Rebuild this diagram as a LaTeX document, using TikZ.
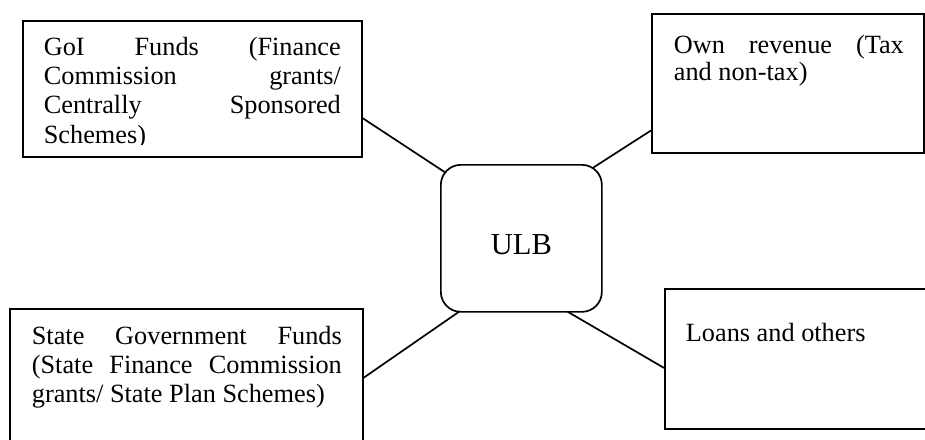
\documentclass[tikz,border=0pt]{standalone}
\usepackage{fontspec}
\setmainfont{Liberation Serif}
\usetikzlibrary{calc}
\begin{document}
\begin{tikzpicture}[x=1pt,y=-1pt,line width=1.7pt,
  box/.style={draw,rectangle,inner sep=0pt,anchor=north west},
  txt/.style={inner sep=0pt,anchor=base west},
  link/.style={line width=1.7pt}]
\clip (0,0) rectangle (925,439);
\fill[white] (0,0) rectangle (925,439);
% boxes
\node[box,minimum width=339pt,minimum height=136pt] (goi) at (22,20) {};
\node[box,minimum width=272pt,minimum height=139pt] (own) at (651,13) {};
\node[box,minimum width=353pt,minimum height=170pt] (state) at (9,308) {};
\node[box,minimum width=300pt,minimum height=140pt] (loans) at (664,288) {};
\node[box,rounded corners=20pt,minimum width=161pt,minimum height=147pt,
      font=\fontsize{30.5}{34}\selectfont,text height=33pt,text depth=0pt] (ulb) at (440,164) {ULB};
% texts
\begin{scope}
\clip (goi.north west) rectangle ([yshift=13.5pt]goi.south east);
\node[txt,font=\fontsize{26.3}{29.2}\selectfont] (goitext) at (43,55.5)
  {\parbox[t]{297pt}{\makebox[297pt][s]{GoI Funds (Finance}\\
   \makebox[297pt][s]{Commission grants/}\\
   \makebox[297pt][s]{Centrally Sponsored}\\
   Schemes)}};
\end{scope}
\node[txt,font=\fontsize{26.3}{27}\selectfont] (owntext) at (673,53)
  {\parbox[t]{230pt}{\makebox[230pt][s]{Own revenue (Tax}\\
   and non-tax)}};
\node[txt,font=\fontsize{26.3}{29}\selectfont] (statetext) at (31,344)
  {\parbox[t]{310pt}{\makebox[310pt][s]{State Government Funds}\\
   \makebox[310pt][s]{(State Finance Commission}\\
   grants/ State Plan Schemes)}};
\node[txt,font=\fontsize{26.3}{29}\selectfont] (loanstext) at (685,341) {Loans and others};
% connectors
\draw[link] ($(goi.north east)!0.713!(goi.south east)$) -- ([shift={(-75.5,-65.5)}]ulb.center);
\draw[link] ($(own.north west)!0.835!(own.south west)$) -- ([shift={(71.5,-70.5)}]ulb.center);
\draw[link] ($(state.north east)!0.406!(state.south east)$) -- ([shift={(-62.5,73.5)}]ulb.center);
\draw[link] ($(loans.north west)!0.564!(loans.south west)$) -- ([shift={(46.5,73.5)}]ulb.center);
\end{tikzpicture}
\end{document}
